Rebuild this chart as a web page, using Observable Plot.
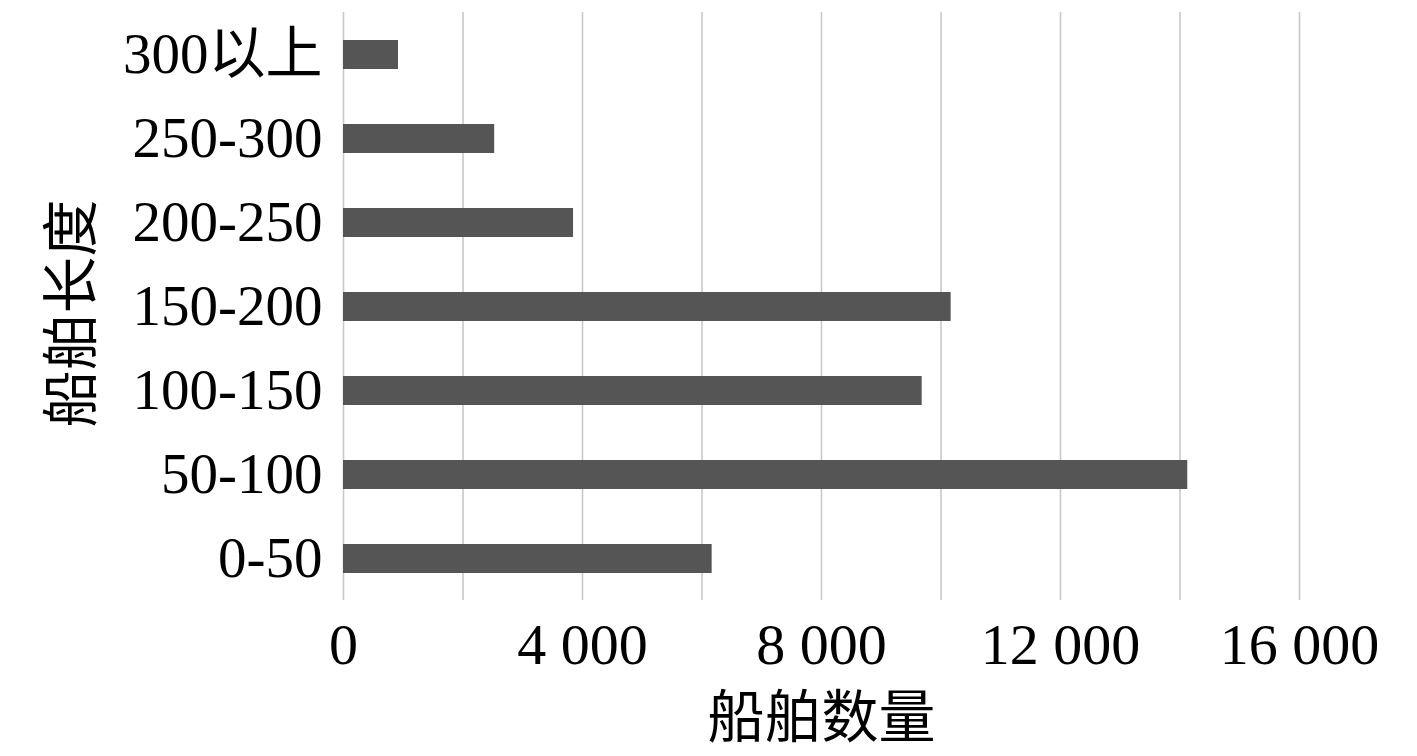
<!DOCTYPE html>
<html>
<head>
<meta charset="utf-8">
<script src="https://cdn.jsdelivr.net/npm/d3@7"></script>
<script src="https://cdn.jsdelivr.net/npm/@observablehq/plot@0.6"></script>
<style>
  html, body { margin: 0; padding: 0; background: #fff; }
</style>
</head>
<body>
<div id="chart"></div>
<script>
const categories = ["300以上", "250-300", "200-250", "150-200", "100-150", "50-100", "0-50"];
const counts = [920, 2530, 3850, 10170, 9685, 14130, 6170];
const xTicks = [0, 4000, 8000, 12000, 16000];
const gridTicks = [0, 2000, 4000, 6000, 8000, 10000, 12000, 14000, 16000];
const xLabel = "船舶数量";
const yLabel = "船舶长度";

const data = categories.map((c, i) => ({ category: c, count: counts[i] }));
const fmt = d => d === 0 ? "0" : d3.format(",")(d).replace(/,/g, " ");
const font = '"Liberation Serif", "Times New Roman", "Noto Sans CJK SC", serif';

const chart = Plot.plot({
  width: 1417,
  height: 756,
  marginLeft: 343,
  marginRight: 118,
  marginTop: 12,
  marginBottom: 156,
  style: { fontFamily: font, background: "#fff", color: "#000" },
  x: { domain: [0, 16000] },
  y: { domain: categories, paddingInner: 0.655, paddingOuter: 0.3275 },
  marks: [
    Plot.gridX(gridTicks, { stroke: "#c8c8c8", strokeOpacity: 1, strokeWidth: 1.6 }),
    Plot.barX(data, { x: "count", y: "category", fill: "#555555" }),
    Plot.axisX(xTicks, { tickSize: 0, tickPadding: 22, fontSize: 58, tickFormat: fmt, fill: "#000", label: null }),
    Plot.axisY({ tickSize: 0, tickPadding: 21, fontSize: 57, fill: "#000", label: null }),
    Plot.text([xLabel], { frameAnchor: "bottom", dy: 118, lineAnchor: "middle", textAnchor: "middle", text: d => d, fontSize: 57, fill: "#000", fontFamily: font }),
    Plot.text([yLabel], { frameAnchor: "left", dx: -271, dy: 7, rotate: -90, textAnchor: "middle", lineAnchor: "middle", text: d => d, fontSize: 57, fill: "#000", fontFamily: font })
  ]
});
document.getElementById("chart").appendChild(chart);
</script>
</body>
</html>
